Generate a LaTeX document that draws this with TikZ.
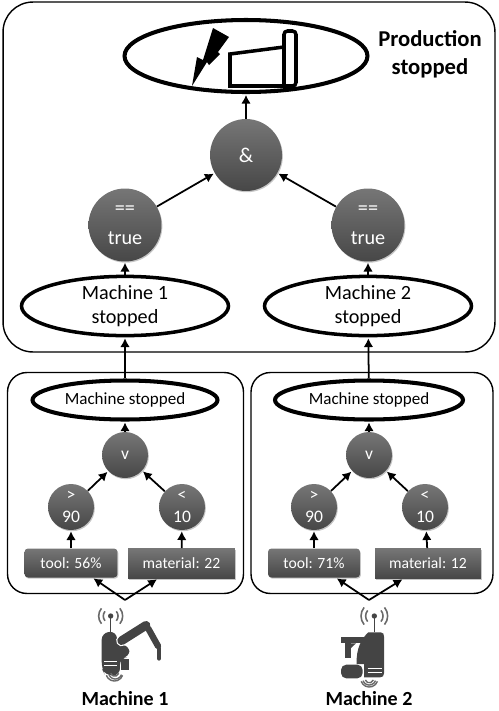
\documentclass[tikz,border=0pt]{standalone}
\usepackage{fontspec}
\setmainfont{Carlito}
\usetikzlibrary{positioning,arrows.meta,shapes.geometric,shadows}
\definecolor{opdark}{HTML}{474747}
\definecolor{oplight}{HTML}{767676}
\definecolor{icondark}{HTML}{444444}
\tikzset{
  group/.style={draw,rounded corners=#1,line width=0.8pt},
  softshadow/.style={drop shadow={shadow xshift=0.5pt,shadow yshift=-0.7pt,opacity=0.45}},
  stateell/.style={ellipse,draw,fill=white,inner sep=0pt,softshadow},
  opnode/.style={circle,inner sep=0pt,top color=oplight,bottom color=opdark,text=white,
                 align=center,softshadow},
  valbox/.style={rectangle,inner sep=0pt,top color=oplight,bottom color=opdark,text=white,
                 softshadow,font=\fontsize{8.9}{12}\selectfont},
  flow/.style={-{Latex[length=5pt,width=5.5pt]},line width=1pt,shorten >=0.5pt},
  mlabel/.style={font=\fontsize{11.4}{12}\bfseries\selectfont}
}
\begin{document}
\begin{tikzpicture}[x=0.02cm,y=-0.02cm]
    \useasboundingbox (0,0) rectangle (498,711);
    \node[group=17pt,minimum width=9.84cm,minimum height=7cm] (plant) at (249,177){};
    % top level
    \node[stateell,line width=2.3pt,minimum width=4.86cm,minimum height=1.44cm] (halted) at (246,56){};
    \node[font=\fontsize{12.9}{16}\bfseries\selectfont,align=center] (haltedtxt) at (430,54){Production\\stopped};
    \node[opnode,minimum size=1.44cm,font=\fontsize{12}{14}\selectfont] (andop) at (246,155){\&};
    \node[opnode,minimum size=1.46cm,font=\fontsize{11.5}{17}\selectfont] (true1) at (125,225){==\\true};
    \node[opnode,minimum size=1.46cm,font=\fontsize{11.5}{17}\selectfont] (true2) at (368,225){==\\true};
    \node[stateell,line width=2pt,minimum width=4.14cm,minimum height=1cm,align=center,
          font=\fontsize{11.5}{14}\selectfont] (state1) at (125,306){Machine 1\\stopped};
    \node[stateell,line width=2pt,minimum width=4.14cm,minimum height=1cm,align=center,
          font=\fontsize{11.5}{14}\selectfont] (state2) at (368,306){Machine 2\\stopped};
    \draw[flow] (andop) -- (halted);
    \draw[flow] (true1) -- (andop);
    \draw[flow] (true2) -- (andop);
    \draw[flow] (state1) -- (true1);
    \draw[flow] (state2) -- (true2);
    % machine 1
    \node[group=11pt,minimum width=4.72cm,minimum height=4.42cm] (box1) at (125.5,483){};
    \node[stateell,line width=2.3pt,minimum width=3.7cm,minimum height=0.78cm,
          font=\fontsize{9.7}{12}\selectfont] (stop1) at (125,400){Machine stopped};
    \node[opnode,minimum size=0.92cm,font=\fontsize{10}{12}\selectfont] (or1) at (125,455){v};
    \node[opnode,minimum size=0.92cm,font=\fontsize{10}{13}\selectfont] (gt1) at (71,507){>\\90};
    \node[opnode,minimum size=0.92cm,font=\fontsize{10}{13}\selectfont] (lt1) at (182,507){<\\10};
    \node[valbox,rounded corners=2pt,minimum width=1.86cm,minimum height=0.58cm] (tool1) at (71,563){tool: 56\%};
    \node[valbox,minimum width=2.14cm,minimum height=0.6cm] (mat1) at (181.5,563.5){material: 22};
    \coordinate (src1) at (125,600);
    \draw[flow] (stop1) -- (state1);
    \draw[flow] (or1) -- (stop1);
    \draw[flow] (gt1) -- (or1);
    \draw[flow] (lt1) -- (or1);
    \draw[flow] (tool1) -- (gt1);
    \draw[flow] (mat1) -- (lt1);
    \draw[flow] (src1) -- (tool1);
    \draw[flow] (src1) -- (mat1);
    % machine 2
    \node[group=11pt,minimum width=4.84cm,minimum height=4.42cm] (box2) at (372,483){};
    \node[stateell,line width=2.3pt,minimum width=3.76cm,minimum height=0.78cm,
          font=\fontsize{9.7}{12}\selectfont] (stop2) at (369,400){Machine stopped};
    \node[opnode,minimum size=0.92cm,font=\fontsize{10}{12}\selectfont] (or2) at (369,455){v};
    \node[opnode,minimum size=0.92cm,font=\fontsize{10}{13}\selectfont] (gt2) at (314,507){>\\90};
    \node[opnode,minimum size=0.92cm,font=\fontsize{10}{13}\selectfont] (lt2) at (425,507){<\\10};
    \node[valbox,rounded corners=2pt,minimum width=1.84cm,minimum height=0.58cm] (tool2) at (314,563){tool: 71\%};
    \node[valbox,minimum width=2.12cm,minimum height=0.6cm] (mat2) at (428,563.5){material: 12};
    \coordinate (src2) at (369,600);
    \draw[flow] (stop2) -- (state2);
    \draw[flow] (or2) -- (stop2);
    \draw[flow] (gt2) -- (or2);
    \draw[flow] (lt2) -- (or2);
    \draw[flow] (tool2) -- (gt2);
    \draw[flow] (mat2) -- (lt2);
    \draw[flow] (src2) -- (tool2);
    \draw[flow] (src2) -- (mat2);
    % lightning and factory
    \fill (213,28) -- (229,37) -- (218,52) -- (220,54) -- (209,65) -- (207,62) -- (192,86)
          -- (197,57) -- (203,60) -- cycle;
    \draw[line width=2pt,line join=miter] (230,86) -- (230,54) -- (284,47) -- (284,86) -- cycle;
    \draw[line width=2pt,rounded corners=2pt] (284,86) -- (284,31) -- (296,31) -- (296,86) -- (284,86);
    % robot arm
    \begin{scope}[shift={(80,590)},scale=1/3]
      \fill[icondark] (92,78) circle (8);
      \draw[icondark,line width=0.8pt] (92,78) -- (92,125);
      \draw[icondark!80,line width=0.9pt] (75,64) arc (220:140:22);
      \draw[icondark!80,line width=0.9pt] (109,64) arc (-40:40:22);
      \draw[icondark!80,line width=0.9pt] (64.4,55) arc (220:140:36);
      \draw[icondark!80,line width=0.9pt] (119.6,55) arc (-40:40:36);
      \fill[icondark,rounded corners=4pt] (65,128) -- (110,124) -- (112,165) -- (148,165) -- (148,203)
          -- (120,203) -- (120,256) -- (75,256) -- (65,235) -- cycle;
      \fill[icondark] (123,206) rectangle (148,240);
      \draw[white,line width=0.7pt] (72,215) -- (112,215);
      \draw[white,line width=0.7pt] (72,227) -- (112,227);
      \draw[white,line width=6.4pt,line cap=round] (125,152) -- (198,106);
      \draw[icondark,line width=5pt,line cap=round] (125,152) -- (198,106);
      \draw[icondark,line width=3.6pt,line cap=round] (205,116) -- (234,168);
      \draw[icondark,line width=2.6pt,line cap=round] (237,175) -- (237,205);
      \draw[icondark!80,line width=0.8pt] (92,250) arc (160:20:13);
      \draw[icondark!80,line width=0.8pt] (87,254) arc (160:20:20);
      \draw[icondark!80,line width=0.8pt] (79,256) arc (160:20:26);
    \end{scope}
    \node[mlabel] (name1) at (125,699){Machine 1};
    % gantry
    \begin{scope}[shift={(320,590)},scale=1/3]
      \fill[icondark] (163,78) circle (8);
      \draw[icondark,line width=0.8pt] (163,78) -- (163,125);
      \draw[icondark!80,line width=0.9pt] (143,61.3) arc (220:140:26);
      \draw[icondark!80,line width=0.9pt] (183,61.3) arc (-40:40:26);
      \draw[icondark!80,line width=0.9pt] (132.4,52.3) arc (220:140:40);
      \draw[icondark!80,line width=0.9pt] (193.6,52.3) arc (-40:40:40);
      \fill[icondark] (110,222) .. controls (108,175) and (125,145) .. (145,127) -- (182,127)
          .. controls (190,127) and (192,132) .. (192,140) -- (192,250)
          .. controls (192,258) and (188,262) .. (180,262) -- (132,262) -- (132,222) -- cycle;
      \fill[icondark] (63,141) rectangle (135,160);
      \fill[icondark] (76,160) rectangle (92,205);
      \fill[icondark] (92,160) -- (108,160) -- (92,175) -- cycle;
      \fill[icondark,rounded corners=3pt] (63,224) rectangle (128,265);
      \draw[white,line width=0.7pt] (143,235) -- (185,235);
      \draw[white,line width=0.7pt] (143,247) -- (185,247);
      \draw[icondark!80,line width=0.8pt] (136,270) arc (160:20:13);
      \draw[icondark!80,line width=0.8pt] (129,272) arc (160:20:20);
      \draw[icondark!80,line width=0.8pt] (123.5,274) arc (160:20:26);
    \end{scope}
    \node[mlabel] (name2) at (369,699){Machine 2};
  \end{tikzpicture}
\end{document}
